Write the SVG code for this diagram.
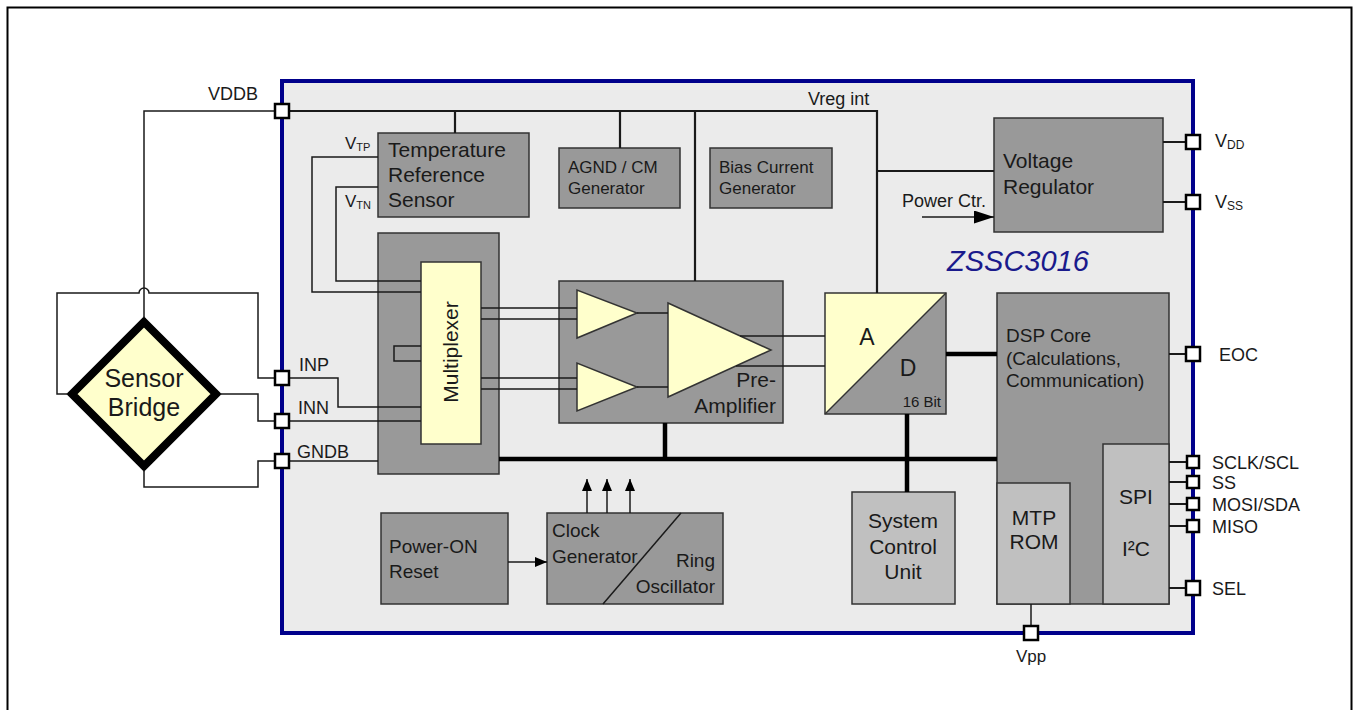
<svg xmlns="http://www.w3.org/2000/svg" width="1356" height="710" viewBox="0 0 1356 710">
<style>
text{font-family:"Liberation Sans",Arial,sans-serif;fill:#1a1a1a}
.box{fill:#999999;stroke:#333;stroke-width:1.5}
.lbox{fill:#c0c0c0;stroke:#333;stroke-width:1.5}
.yel{fill:#ffffcc;stroke:#333;stroke-width:1.5}
.pin{fill:#fff;stroke:#000;stroke-width:2.5}
.w{fill:none;stroke:#1a1a1a;stroke-width:1.5}
.p{fill:none;stroke:#1a1a1a;stroke-width:2.2}
.t{fill:none;stroke:#000;stroke-width:4.5}
.f21{font-size:21px}
.f19{font-size:19px}
.f18{font-size:18px}
.f17{font-size:17px}
</style>
<defs>
<marker id="ab" markerUnits="userSpaceOnUse" markerWidth="20" markerHeight="13" refX="20" refY="6.5" orient="auto"><path d="M0,0 L20,6.5 L0,13 z" fill="#000"/></marker>
<marker id="as" markerUnits="userSpaceOnUse" markerWidth="12" markerHeight="10" refX="12" refY="5" orient="auto"><path d="M0,0 L12,5 L0,10 z" fill="#000"/></marker>
</defs>
<rect x="0" y="0" width="1356" height="710" fill="#fff"/>
<rect x="7.5" y="7.5" width="1344" height="800" fill="none" stroke="#000" stroke-width="2"/>
<g id="chip">
<rect x="282" y="81" width="911" height="552" fill="#ebebeb" stroke="#00008b" stroke-width="4"/>
<text x="947" y="271" font-size="29" font-style="italic" style="fill:#1a1a8c">ZSSC3016</text>
</g>
<g id="sensor-bridge">
<polygon points="144,322 216,394 144,466 72,394" fill="#ffffcc" stroke="#000" stroke-width="8"/>
<text x="144" y="387" font-size="25" text-anchor="middle">Sensor</text>
<text x="144" y="416" font-size="25" text-anchor="middle">Bridge</text>
</g>
<g id="temp-sensor">
<rect class="box" x="378" y="133" width="151" height="84"/>
<text class="f21" x="388" y="157">Temperature</text>
<text class="f21" x="388" y="182">Reference</text>
<text class="f21" x="388" y="207">Sensor</text>
</g>
<g id="agnd">
<rect class="box" x="559" y="148" width="121" height="60"/>
<text class="f17" x="568" y="173">AGND / CM</text>
<text class="f17" x="568" y="194">Generator</text>
</g>
<g id="bias">
<rect class="box" x="710" y="148" width="122" height="60"/>
<text class="f17" x="719" y="173">Bias Current</text>
<text class="f17" x="719" y="194">Generator</text>
</g>
<g id="voltage-regulator">
<rect class="box" x="994" y="118" width="169" height="114"/>
<text class="f21" x="1003" y="168">Voltage</text>
<text class="f21" x="1003" y="194">Regulator</text>
</g>
<g id="multiplexer">
<rect class="box" x="378" y="233" width="121" height="241"/>
<rect class="yel" x="421" y="262" width="60" height="182"/>
<text class="f21" transform="translate(458,352) rotate(-90)" text-anchor="middle">Multiplexer</text>
</g>
<g id="preamp">
<rect class="box" x="559" y="281" width="224" height="142"/>
<polygon class="yel" points="577,290 577,338 637,313"/>
<polygon class="yel" points="577,363 577,411 637,387"/>
<polygon class="yel" points="668,303 668,397 771,350"/>
<text class="f21" x="776" y="387" text-anchor="end">Pre-</text>
<text class="f21" x="776" y="413" text-anchor="end">Amplifier</text>
</g>
<g id="adc">
<rect x="825" y="293" width="121" height="121" fill="#999999"/>
<polygon points="825,293 946,293 825,414" fill="#ffffcc"/>
<line x1="825" y1="414" x2="946" y2="293" stroke="#333" stroke-width="1.5"/>
<rect x="825" y="293" width="121" height="121" fill="none" stroke="#333" stroke-width="1.5"/>
<text x="867" y="345" font-size="23" text-anchor="middle">A</text>
<text x="908" y="376" font-size="23" text-anchor="middle">D</text>
<text x="941" y="407" font-size="15" text-anchor="end">16 Bit</text>
</g>
<g id="dsp">
<rect class="box" x="997" y="293" width="172" height="311"/>
<text class="f19" x="1006" y="342">DSP Core</text>
<text class="f19" x="1006" y="365">(Calculations,</text>
<text class="f19" x="1006" y="387">Communication)</text>
</g>
<g id="mtp-rom">
<rect class="lbox" x="997" y="483" width="73" height="121"/>
<text class="f21" x="1034" y="525" text-anchor="middle">MTP</text>
<text class="f21" x="1034" y="549" text-anchor="middle">ROM</text>
</g>
<g id="spi-i2c">
<rect class="lbox" x="1103" y="444" width="66" height="160"/>
<text class="f21" x="1136" y="504" text-anchor="middle">SPI</text>
<text class="f21" x="1136" y="556" text-anchor="middle">I²C</text>
</g>
<g id="power-on-reset">
<rect class="box" x="381" y="513" width="127" height="91"/>
<text class="f19" x="389" y="553">Power-ON</text>
<text class="f19" x="389" y="578">Reset</text>
</g>
<g id="clock-generator">
<rect class="box" x="547" y="513" width="176" height="91"/>
<line x1="603" y1="604" x2="681" y2="513" stroke="#1a1a1a" stroke-width="1.5"/>
<text class="f19" x="552" y="537">Clock</text>
<text class="f19" x="552" y="563">Generator</text>
<text class="f19" x="715" y="567" text-anchor="end">Ring</text>
<text class="f19" x="715" y="593" text-anchor="end">Oscillator</text>
</g>
<g id="system-control">
<rect class="lbox" x="852" y="492" width="103" height="112"/>
<text class="f21" x="903" y="528" text-anchor="middle">System</text>
<text class="f21" x="903" y="554" text-anchor="middle">Control</text>
<text class="f21" x="903" y="579" text-anchor="middle">Unit</text>
</g>
<g id="connectors">
<path class="w" d="M275,111 H144 V318"/>
<path class="w" d="M68,394 H57 V293 H139 A5,5 0 0 1 149,293 H258 V378 H275"/>
<path class="w" d="M220,394 H258 V421 H275"/>
<path class="w" d="M144,470 V487 H258 V461 H275"/>
<path class="p" d="M289,111 H877 V293"/>
<path class="p" d="M455,111 V133 M620,111 V148 M695,111 V281 M877,171 H994"/>
<path class="w" d="M378,157 H312 V292 H421"/>
<path class="w" d="M378,187 H336 V281 H421"/>
<path class="w" d="M289,378 H338 V407 H421"/>
<path class="w" d="M289,421 H421"/>
<path class="w" d="M289,461 H378"/>
<path class="w" d="M421,346 H394 V361 H421"/>
<path class="w" d="M481,308 H577 M481,319 H577 M481,378 H577 M481,389 H577"/>
<path class="w" d="M637,313 H668 M637,387 H668"/>
<path class="w" d="M740,336 H825 M736,366 H825"/>
<path class="t" d="M946,354 H997"/>
<path class="t" d="M499,459 H997"/>
<path class="t" d="M665,423 V459"/>
<path class="t" d="M907,414 V492"/>
<path class="p" d="M1163,142 H1186 M1163,202 H1186"/>
<path class="w" d="M922,217 H994" marker-end="url(#ab)"/>
<path class="p" d="M1169,354 H1187 M1169,462 H1187 M1169,482 H1187 M1169,504 H1187 M1169,526 H1187 M1169,588 H1187"/>
<path class="w" d="M1031,604 V627"/>
<path class="w" d="M508,562 H547" marker-end="url(#as)"/>
<path class="w" d="M587,513 V479" marker-end="url(#as)"/>
<path class="w" d="M607,513 V479" marker-end="url(#as)"/>
<path class="w" d="M630,513 V479" marker-end="url(#as)"/>
</g>
<g id="pins">
<rect class="pin" x="275" y="104" width="14" height="14"/>
<rect class="pin" x="275" y="371" width="14" height="14"/>
<rect class="pin" x="275" y="414" width="14" height="14"/>
<rect class="pin" x="275" y="454" width="14" height="14"/>
<rect class="pin" x="1186" y="135" width="14" height="14"/>
<rect class="pin" x="1186" y="195" width="14" height="14"/>
<rect class="pin" x="1186" y="347" width="14" height="14"/>
<rect class="pin" x="1187" y="456" width="12" height="12"/>
<rect class="pin" x="1187" y="476" width="12" height="12"/>
<rect class="pin" x="1187" y="498" width="12" height="12"/>
<rect class="pin" x="1187" y="520" width="12" height="12"/>
<rect class="pin" x="1186" y="581" width="14" height="14"/>
<rect class="pin" x="1024" y="626" width="14" height="14"/>
</g>
<g id="labels">
<text class="f18" x="258" y="100" text-anchor="end">VDDB</text>
<text class="f18" x="808" y="105">Vreg int</text>
<text class="f17" x="345" y="149">V<tspan font-size="11" dy="2">TP</tspan></text>
<text class="f17" x="345" y="207">V<tspan font-size="11" dy="2">TN</tspan></text>
<text class="f18" x="299" y="371">INP</text>
<text class="f18" x="298" y="414">INN</text>
<text class="f18" x="297" y="458">GNDB</text>
<text class="f18" x="902" y="207">Power Ctr.</text>
<text class="f18" x="1215" y="147">V<tspan font-size="12" dy="2">DD</tspan></text>
<text class="f18" x="1215" y="208">V<tspan font-size="12" dy="2">SS</tspan></text>
<text class="f18" x="1219" y="361">EOC</text>
<text class="f18" x="1212" y="469">SCLK/SCL</text>
<text class="f18" x="1212" y="489">SS</text>
<text class="f18" x="1212" y="511">MOSI/SDA</text>
<text class="f18" x="1212" y="533">MISO</text>
<text class="f18" x="1212" y="595">SEL</text>
<text class="f17" x="1031" y="662" text-anchor="middle">Vpp</text>
</g>
</svg>
